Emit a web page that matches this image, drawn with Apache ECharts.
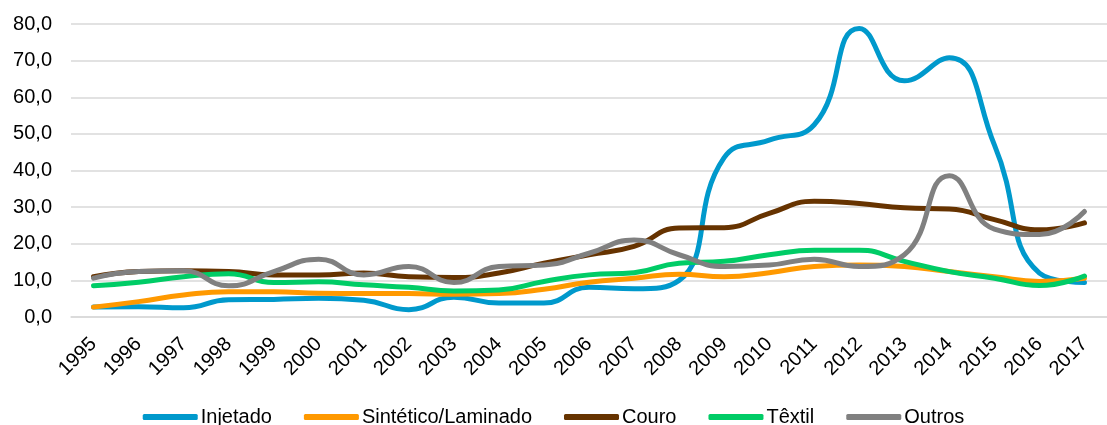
<!DOCTYPE html>
<html>
<head>
<meta charset="utf-8">
<script src="https://cdn.jsdelivr.net/npm/echarts@6/dist/echarts.min.js"></script>
<style>
  html, body { margin: 0; padding: 0; background: #fff; }
  #chart1 { width: 1107px; height: 425px; }
</style>
</head>
<body>
<div id="chart1"></div>
<script>
var anos = ['1995', '1996', '1997', '1998', '1999', '2000', '2001', '2002', '2003', '2004', '2005', '2006',
  '2007', '2008', '2009', '2010', '2011', '2012', '2013', '2014', '2015', '2016', '2017'];

var injetado = [2.7, 2.8, 2.5, 4.7, 4.8, 5.1, 4.6, 2.0, 5.4, 3.8, 3.8, 8.1,
  7.7, 10.0, 43.5, 48.3, 52.5, 78.8, 64.5, 70.8, 47.0, 12.0, 9.4];
var sintetico = [2.7, 4.2, 6.0, 6.9, 6.9, 6.5, 6.4, 6.4, 6.2, 6.4, 7.6, 9.5,
  10.6, 11.7, 11.0, 12.1, 13.8, 14.2, 13.8, 12.4, 11.0, 9.7, 10.6];
var couro = [11.0, 12.4, 12.6, 12.4, 11.5, 11.5, 12.0, 11.0, 10.8, 12.0, 14.7, 17.0,
  19.3, 24.3, 24.4, 28.3, 31.6, 31.0, 29.8, 29.5, 26.6, 23.8, 25.7];
var textil = [8.5, 9.5, 11.0, 11.8, 9.4, 9.6, 8.8, 8.1, 7.1, 7.4, 9.7, 11.5,
  12.1, 14.7, 15.2, 17.0, 18.2, 18.2, 15.2, 12.4, 10.6, 8.6, 11.2];
var outros = [10.6, 12.4, 12.6, 8.5, 12.4, 15.8, 11.5, 13.8, 9.4, 13.8, 14.2, 17.4,
  21.0, 17.0, 13.8, 14.2, 15.8, 13.8, 17.0, 38.6, 24.0, 22.5, 28.8];

var nomes = ['Injetado', 'Sintético/Laminado', 'Couro', 'Têxtil', 'Outros'];
var cores = ['#0099cc', '#ff9900', '#663300', '#00cc66', '#808080'];
var valores = [injetado, sintetico, couro, textil, outros];

var fonte = 'Liberation Sans, Arial, sans-serif';

var myChart = echarts.init(document.getElementById('chart1'));

var series = nomes.map(function (nome, i) {
  return {
    name: nome,
    type: 'line',
    smooth: 0.5,
    showSymbol: false,
    symbol: 'none',
    lineStyle: { width: 5, color: cores[i], cap: 'round', join: 'round' },
    itemStyle: { color: cores[i] },
    data: valores[i]
  };
});

var option = {
  animation: false,
  color: cores,
  grid: { left: 71, top: 24, width: 1051, height: 293, containLabel: false },
  legend: {
    data: nomes,
    left: 'center',
    top: 402,
    icon: 'roundRect',
    itemWidth: 55,
    itemHeight: 6,
    itemGap: 32,
    textStyle: { fontFamily: fonte, fontSize: 20, color: '#000', padding: [0, 0, 0, -2] }
  },
  xAxis: {
    type: 'category',
    data: anos,
    boundaryGap: true,
    axisLine: { show: true, lineStyle: { color: '#d9d9d9', width: 1.5 } },
    axisTick: { show: false },
    axisLabel: {
      rotate: 45,
      interval: 0,
      margin: 24,
      fontFamily: fonte,
      fontSize: 20,
      color: '#000'
    }
  },
  yAxis: {
    type: 'value',
    min: 0,
    max: 80,
    interval: 10,
    axisLine: { show: false },
    axisTick: { show: false },
    splitLine: { lineStyle: { color: '#d9d9d9', width: 1.5 } },
    axisLabel: {
      margin: 19,
      fontFamily: fonte,
      fontSize: 20,
      color: '#000',
      formatter: function (v) { return v.toFixed(1).replace('.', ','); }
    }
  },
  series: series
};

myChart.setOption(option);
</script>
</body>
</html>
